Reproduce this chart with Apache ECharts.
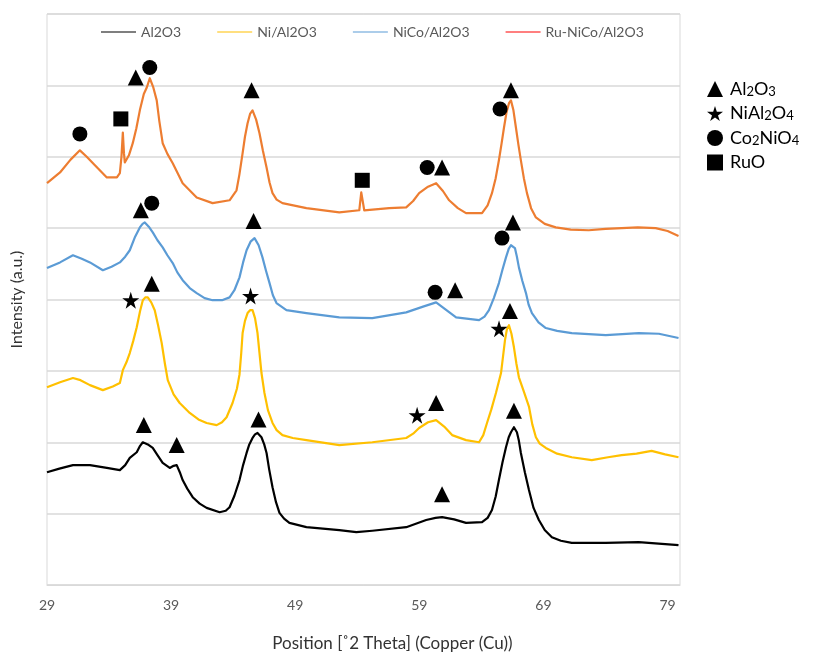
<!DOCTYPE html>
<html><head><meta charset="utf-8">
<script src="https://cdn.jsdelivr.net/npm/echarts@6/dist/echarts.min.js"></script>
<style>html,body{margin:0;padding:0;background:#fff}#c{width:823px;height:657px}</style>
</head><body><div id="c"></div>
<script>
// ---- data (x = 2θ degrees, y = offset intensity in a.u.) ----
const seriesNames = ['Al2O3', 'Ni/Al2O3', 'NiCo/Al2O3', 'Ru-NiCo/Al2O3'];
const xTicks = [29, 39, 49, 59, 69, 79];

const al2o3Data = [[29.0,1.58],[30.0,1.63],[31.09,1.68],[32.46,1.68],[33.82,1.64],[34.87,1.61],[35.3,1.68],[35.67,1.78],[36.23,1.86],[36.5,1.95],[36.72,2.00],[37.12,1.97],[37.52,1.92],[37.9,1.82],[38.32,1.71],[38.89,1.64],[39.2,1.67],[39.45,1.68],[39.7,1.58],[39.93,1.47],[40.3,1.35],[40.74,1.23],[41.3,1.14],[41.86,1.08],[42.91,1.02],[43.4,1.04],[43.71,1.09],[44.1,1.25],[44.51,1.47],[44.8,1.68],[45.08,1.85],[45.3,1.97],[45.56,2.06],[45.76,2.11],[45.96,2.13],[46.12,2.11],[46.28,2.07],[46.5,1.97],[46.69,1.85],[46.9,1.62],[47.17,1.37],[47.45,1.16],[47.73,1.01],[48.1,0.93],[48.53,0.87],[49.90,0.81],[52.55,0.77],[53.92,0.74],[55.21,0.76],[57.94,0.81],[59.55,0.91],[60.3,0.94],[60.83,0.95],[61.80,0.92],[62.76,0.87],[64.05,0.88],[64.5,0.94],[64.85,1.05],[65.15,1.24],[65.41,1.47],[65.7,1.72],[65.98,1.93],[66.2,2.07],[66.38,2.14],[66.62,2.21],[66.86,2.14],[67.02,2.02],[67.18,1.85],[67.5,1.58],[67.83,1.33],[68.2,1.08],[68.63,0.91],[69.1,0.77],[69.68,0.67],[70.4,0.62],[71.28,0.59],[74.02,0.59],[76.67,0.60],[79.88,0.56]];

const niData = [[29.0,2.77],[30.05,2.84],[31.09,2.90],[31.7,2.87],[32.46,2.80],[33.50,2.73],[34.3,2.78],[34.87,2.83],[35.11,3.01],[35.4,3.12],[35.67,3.25],[35.95,3.42],[36.23,3.61],[36.5,3.84],[36.72,3.99],[36.92,4.03],[37.12,4.03],[37.4,3.96],[37.68,3.85],[37.95,3.64],[38.24,3.39],[38.5,3.10],[38.73,2.87],[39.2,2.67],[39.69,2.55],[40.50,2.41],[41.2,2.32],[41.86,2.27],[42.67,2.24],[43.1,2.28],[43.47,2.35],[43.95,2.55],[44.3,2.75],[44.51,2.95],[44.65,3.25],[44.76,3.53],[44.95,3.70],[45.16,3.81],[45.36,3.85],[45.56,3.85],[45.76,3.74],[45.96,3.53],[46.12,3.25],[46.28,2.97],[46.52,2.69],[46.8,2.45],[47.17,2.27],[47.5,2.17],[47.97,2.10],[48.8,2.06],[49.90,2.03],[52.55,1.96],[55.21,2.00],[57.94,2.06],[58.5,2.12],[58.98,2.20],[59.7,2.28],[60.35,2.31],[61.0,2.22],[61.64,2.10],[62.76,2.03],[63.81,2.00],[64.15,2.10],[64.45,2.27],[64.8,2.46],[65.17,2.69],[65.58,2.97],[65.90,3.43],[66.05,3.58],[66.22,3.64],[66.42,3.52],[66.62,3.33],[66.82,3.10],[67.02,2.91],[67.4,2.72],[67.83,2.50],[68.1,2.25],[68.39,2.07],[68.7,1.98],[69.19,1.92],[70.1,1.84],[71.28,1.79],[72.89,1.75],[74.2,1.79],[75.30,1.82],[76.5,1.84],[77.71,1.88],[78.8,1.83],[79.88,1.79]];

const nicoData = [[29.0,4.44],[30.05,4.52],[31.09,4.62],[31.8,4.57],[32.46,4.52],[33.50,4.41],[34.2,4.46],[34.87,4.52],[35.3,4.60],[35.67,4.69],[36.1,4.88],[36.48,5.01],[36.7,5.06],[36.88,5.08],[37.2,5.02],[37.52,4.94],[37.9,4.83],[38.32,4.73],[38.7,4.62],[39.13,4.51],[39.5,4.38],[39.93,4.27],[40.5,4.16],[41.06,4.09],[41.7,4.02],[42.34,3.99],[43.1,3.99],[43.71,4.03],[44.1,4.13],[44.51,4.31],[44.8,4.52],[45.08,4.69],[45.4,4.81],[45.72,4.86],[46.05,4.76],[46.36,4.59],[46.65,4.40],[46.93,4.23],[47.2,4.06],[47.49,3.95],[48.29,3.85],[49.90,3.81],[52.55,3.75],[55.21,3.74],[57.94,3.82],[59.3,3.90],[60.35,3.96],[61.1,3.86],[61.96,3.75],[63.81,3.71],[64.25,3.76],[64.61,3.85],[65.0,4.02],[65.41,4.23],[65.7,4.42],[65.98,4.59],[66.2,4.71],[66.38,4.76],[66.70,4.72],[66.86,4.60],[67.02,4.45],[67.3,4.26],[67.59,4.09],[67.8,3.93],[68.07,3.81],[68.6,3.68],[69.19,3.60],[70.1,3.56],[71.28,3.53],[74.02,3.50],[76.67,3.53],[78.3,3.52],[79.88,3.46]];

const runicoData = [[29.0,5.63],[30.05,5.78],[30.9,5.96],[31.65,6.09],[32.2,6.00],[32.86,5.88],[33.82,5.71],[34.63,5.71],[34.87,5.77],[35.0,6.0],[35.11,6.34],[35.2,6.05],[35.27,5.92],[35.6,6.02],[35.91,6.19],[36.2,6.40],[36.48,6.65],[36.8,6.88],[37.04,6.97],[37.28,7.10],[37.55,6.98],[37.84,6.79],[38.05,6.50],[38.32,6.19],[38.7,6.04],[39.13,5.91],[39.93,5.63],[41.06,5.43],[42.34,5.35],[43.71,5.39],[44.27,5.53],[44.5,5.75],[44.76,6.05],[44.95,6.28],[45.16,6.47],[45.36,6.60],[45.56,6.65],[45.85,6.52],[46.12,6.33],[46.4,6.08],[46.69,5.85],[46.93,5.64],[47.17,5.49],[47.5,5.40],[47.97,5.35],[49.90,5.28],[52.55,5.22],[54.16,5.25],[54.32,5.50],[54.56,5.25],[56.57,5.28],[57.94,5.29],[58.5,5.38],[58.98,5.49],[59.7,5.58],[60.35,5.63],[60.9,5.52],[61.40,5.39],[62.1,5.28],[62.76,5.21],[64.05,5.21],[64.5,5.32],[64.85,5.49],[65.15,5.70],[65.41,5.95],[65.62,6.18],[65.82,6.41],[66.02,6.62],[66.22,6.75],[66.38,6.79],[66.58,6.65],[66.78,6.41],[66.98,6.17],[67.18,5.95],[67.42,5.70],[67.67,5.49],[68.0,5.28],[68.39,5.15],[69.1,5.06],[69.99,5.01],[71.2,4.98],[72.65,4.97],[74.0,4.99],[75.30,5.00],[76.6,5.01],[78.04,5.00],[79.0,4.96],[79.88,4.89]];

// phase markers
const phaseNames = ['Al₂O₃', 'NiAl₂O₄', 'Co₂NiO₄', 'RuO'];
const triangleMarks = [[36.15,7.11],[45.48,6.93],[60.83,5.85],[66.38,6.93],[36.56,5.25],[45.64,5.10],[66.54,5.08],[61.88,4.13],[37.44,4.22],[60.35,2.55],[66.30,3.84],[36.80,2.24],[39.45,1.96],[46.04,2.32],[60.83,1.27],[66.62,2.44]];
const starMarks = [[35.75,3.99],[45.40,4.05],[58.82,2.38],[65.42,3.59]];
const circleMarks = [[37.28,7.25],[31.65,6.32],[59.63,5.85],[65.50,6.67],[37.44,5.35],[65.66,4.86],[60.27,4.10]];
const squareMarks = [[34.95,6.53],[54.40,5.67]];

// ---- chart ----
const lineColors = ['#000000', '#FFC000', '#5B9BD5', '#ED7D31'];
const legendColors = ['#000000', '#FFC000', '#5B9BD5', '#FF0000'];
const lineData = [al2o3Data, niData, nicoData, runicoData];
const starPath = 'path://M50,0 L61,35 L98,35 L68,57 L79,91 L50,70 L21,91 L32,57 L2,35 L39,35 Z';
const phaseRich = {
  'Al₂O₃': 'Al{s|2}O{s|3}',
  'NiAl₂O₄': 'NiAl{s|2}O{s|4}',
  'Co₂NiO₄': 'Co{s|2}NiO{s|4}',
  'RuO': 'RuO'
};
const font = 'Lato, "Open Sans", sans-serif';

const series = seriesNames.map((n, i) => ({
  name: n, type: 'line', data: lineData[i], showSymbol: false, symbol: 'none',
  smooth: false, lineStyle: { color: lineColors[i], width: 2.2, join: 'round' }, itemStyle: { color: lineColors[i] },
  z: 2 + i
}));
const markerDefs = [
  { name: phaseNames[0], symbol: 'triangle', size: 16, data: triangleMarks },
  { name: phaseNames[1], symbol: starPath, size: 17, data: starMarks },
  { name: phaseNames[2], symbol: 'circle', size: 15, data: circleMarks },
  { name: phaseNames[3], symbol: 'rect', size: 15, data: squareMarks }
];
markerDefs.forEach(m => series.push({
  name: m.name, type: 'scatter', symbol: m.symbol, symbolSize: m.size, data: m.data,
  itemStyle: { color: '#000', opacity: 1 }, z: 10, silent: true
}));

const chart = echarts.init(document.getElementById('c'), null, { renderer: 'canvas' });
chart.setOption({
  animation: false,
  backgroundColor: '#fff',
  textStyle: { fontFamily: font },
  grid: { left: 47, right: 143, top: 14, bottom: 72, show: true, borderColor: '#d9d9d9', borderWidth: 1,
    containLabel: false, outerBoundsMode: 'none' },
  legend: [{
    data: seriesNames.map((n, i) => ({ name: n, itemStyle: { color: legendColors[i] } })),
    left: 96, top: 20, icon: 'rect', itemWidth: 35, itemHeight: 1.2, itemGap: 36,
    textStyle: { fontSize: 14, color: '#595959', fontFamily: font }
  }, {
    data: markerDefs.map(m => ({ name: m.name, icon: m.symbol })),
    orient: 'vertical', left: 702, top: 75, itemWidth: 16, itemHeight: 16, itemGap: 6.5,
    itemStyle: { color: '#000' },
    formatter: n => phaseRich[n] || n,
    textStyle: { fontSize: 18, lineHeight: 18, color: '#000', fontFamily: font, padding: [0, 0, 0, 2],
      rich: { s: { fontSize: 13, lineHeight: 13, color: '#000', fontFamily: font, verticalAlign: 'bottom' } } }
  }],
  xAxis: {
    type: 'value', min: 29, max: 80,
    axisLine: { lineStyle: { color: '#d9d9d9' } }, axisTick: { show: false },
    splitLine: { show: false },
    axisLabel: { customValues: xTicks, color: '#595959', fontSize: 14, margin: 13, fontFamily: font },
    name: 'Position [˚2 Theta] (Copper (Cu))', nameLocation: 'middle', nameGap: 50,
    nameTextStyle: { fontSize: 17, color: '#333', fontFamily: font, padding: [0, 0, 0, 58] }
  },
  yAxis: {
    type: 'value', min: 0, max: 8, interval: 1,
    axisLine: { show: false }, axisTick: { show: false }, axisLabel: { show: false },
    splitLine: { lineStyle: { color: '#d9d9d9', width: 1.5 } },
    name: 'Intensity (a.u.)', nameLocation: 'middle', nameGap: 22, nameRotate: 90,
    nameTextStyle: { fontSize: 16, color: '#333', fontFamily: font }
  },
  series: series
});
</script>
</body></html>
